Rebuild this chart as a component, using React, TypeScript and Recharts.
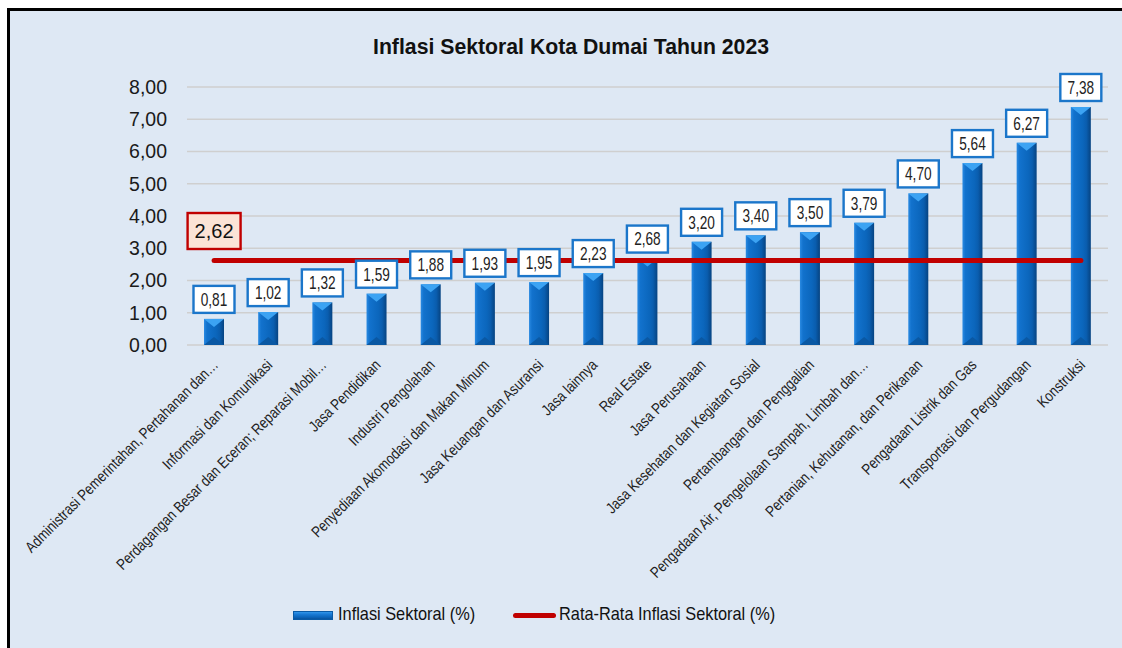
import React from 'react';
import {
  ComposedChart,
  Bar,
  Line,
  XAxis,
  YAxis,
  CartesianGrid,
  LabelList,
  Legend,
} from 'recharts';

const chartTitle = 'Inflasi Sektoral Kota Dumai Tahun 2023';

const categories = [
  'Administrasi Pemerintahan, Pertahanan dan…',
  'Informasi dan Komunikasi',
  'Perdagangan Besar dan Eceran; Reparasi Mobil…',
  'Jasa Pendidikan',
  'Industri Pengolahan',
  'Penyediaan Akomodasi dan Makan Minum',
  'Jasa Keuangan dan Asuransi',
  'Jasa lainnya',
  'Real Estate',
  'Jasa Perusahaan',
  'Jasa Kesehatan dan Kegiatan Sosial',
  'Pertambangan dan Penggalian',
  'Pengadaan Air, Pengelolaan Sampah, Limbah dan…',
  'Pertanian, Kehutanan, dan Perikanan',
  'Pengadaan Listrik dan Gas',
  'Transportasi dan Pergudangan',
  'Konstruksi',
];

const inflationValues = [
  0.81, 1.02, 1.32, 1.59, 1.88, 1.93, 1.95, 2.23, 2.68, 3.2, 3.4, 3.5, 3.79, 4.7, 5.64, 6.27, 7.38,
];

const averageInflation = 2.62;

const yTicks = [0, 1, 2, 3, 4, 5, 6, 7, 8];

const seriesNames = ['Inflasi Sektoral (%)', 'Rata-Rata Inflasi Sektoral (%)'];

const data = categories.map((name, i) => ({
  name,
  value: inflationValues[i],
  avg: averageInflation,
}));

const REG = "'Liberation Sans', Arial, sans-serif";

const fmt = (v: number) => Number(v).toFixed(2).replace('.', ',');

const CHART_W = 1115;
const CHART_H = 640;

const BevelBar = (props: any) => {
  const { x, y, width: w, height: h } = props;
  if (!h || h <= 0) return null;
  const d = Math.min(8, h / 2);
  return (
    <g>
      <rect x={x} y={y} width={w} height={h} fill="url(#barBody)" />
      <polygon points={`${x},${y} ${x + w},${y} ${x + w / 2},${y + d}`} fill="#3CA3F3" />
      <polygon
        points={`${x},${y + h} ${x + w},${y + h} ${x + w / 2},${y + h - d}`}
        fill="#0A58A3"
      />
    </g>
  );
};

const BarValueLabel = (props: any) => {
  const { x, y, width, value } = props;
  const cx = x + width / 2;
  const bw = 41;
  const bh = 27;
  const top = y - 6 - bh;
  return (
    <g>
      <rect x={cx - bw / 2} y={top} width={bw} height={bh} fill="#ffffff" stroke="#1B76CA" strokeWidth={2.4} />
      <g transform={`translate(${cx} ${top + bh / 2}) scale(0.78 1)`}>
        <text x={0} y={0} dy="0.36em" textAnchor="middle" fontSize={17.5} fontFamily={REG} fill="#222">
          {fmt(value)}
        </text>
      </g>
    </g>
  );
};

const AvgLabel = (props: any) => {
  const { x, y, value, index } = props;
  if (index !== 0) return null;
  const bw = 53;
  const bh = 36;
  const cy = y - 29.5;
  return (
    <g>
      <rect x={x - bw / 2} y={cy - bh / 2} width={bw} height={bh} fill="#FBE3D6" stroke="#C00000" strokeWidth={2.4} />
      <text x={x} y={cy} dy="0.36em" textAnchor="middle" fontSize={20} fontFamily={REG} fill="#111">
        {fmt(value)}
      </text>
    </g>
  );
};

const CategoryTick = (props: any) => {
  const { x, y, payload } = props;
  const bx = x + 5;
  const by = y + 21;
  return (
    <g transform={`translate(${bx} ${by}) rotate(-45) scale(0.83 1)`}>
      <text x={0} y={0} textAnchor="end" fontSize={15.5} fontFamily={REG} fill="#222">
        {payload.value}
      </text>
    </g>
  );
};

const legendText: React.CSSProperties = {
  position: 'absolute',
  top: 9,
  lineHeight: '22px',
  whiteSpace: 'nowrap',
  display: 'inline-block',
  transform: 'scaleX(0.86)',
  transformOrigin: 'left center',
};

const LegendContent = () => (
  <div style={{ position: 'relative', width: CHART_W, height: 40, fontFamily: REG, fontSize: 19, color: '#111' }}>
    <div
      style={{
        position: 'absolute',
        left: 283,
        top: 17,
        width: 40,
        height: 9,
        background: 'linear-gradient(to bottom, #3CA3F3 0%, #1A7BD6 35%, #0B63B8 70%, #07498C 100%)',
        boxShadow: 'inset 0 0 0 1px #0A5AA6',
      }}
    />
    <span style={{ ...legendText, left: 328 }}>{seriesNames[0]}</span>
    <div
      style={{
        position: 'absolute',
        left: 503,
        top: 19,
        width: 43,
        height: 5,
        borderRadius: 3,
        background: '#C00000',
      }}
    />
    <span style={{ ...legendText, left: 549 }}>{seriesNames[1]}</span>
  </div>
);

export default function App() {
  return (
    <div
      style={{
        position: 'absolute',
        left: 7,
        top: 8,
        width: 1112,
        height: 637,
        borderTop: '3px solid #000',
        borderLeft: '3px solid #000',
        background: '#DEE8F4',
        overflow: 'hidden',
      }}
    >
      <style>{'html,body{overflow:hidden}'}</style>
      <svg
        width={CHART_W}
        height={60}
        style={{ position: 'absolute', left: 0, top: 0, pointerEvents: 'none' }}
      >
        <text
          x={561}
          y={42.5}
          textAnchor="middle"
          fontSize={22}
          fontWeight="bold"
          fontFamily={REG}
          fill="#111"
          textLength={396}
          lengthAdjust="spacingAndGlyphs"
        >
          {chartTitle}
        </text>
      </svg>
      <ComposedChart
        width={CHART_W}
        height={CHART_H}
        data={data}
        margin={{ top: 76, right: 17, left: 97, bottom: 17 }}
      >
        <defs>
          <linearGradient id="barBody" x1="0" y1="0" x2="1" y2="0">
            <stop offset="0%" stopColor="#2A8AE2" />
            <stop offset="15%" stopColor="#1272CD" />
            <stop offset="60%" stopColor="#0B66BC" />
            <stop offset="78%" stopColor="#0A5DAE" />
            <stop offset="100%" stopColor="#064381" />
          </linearGradient>
        </defs>
        <CartesianGrid vertical={false} stroke="#CFCFCF" strokeWidth={1.6} />
        <XAxis
          dataKey="name"
          interval={0}
          tick={<CategoryTick />}
          tickLine={false}
          axisLine={false}
          tickSize={0}
          tickMargin={0}
          height={249}
        />
        <YAxis
          domain={[0, 8]}
          ticks={yTicks}
          tickFormatter={fmt}
          tickLine={false}
          axisLine={false}
          tickSize={0}
          tickMargin={20}
          width={80}
          tick={{ fontSize: 19.5, fontFamily: REG, fill: '#1a1a1a' }}
        />
        <Bar dataKey="value" name={seriesNames[0]} barSize={20} shape={<BevelBar />} isAnimationActive={false}>
          <LabelList dataKey="value" content={<BarValueLabel />} />
        </Bar>
        <Line
          dataKey="avg"
          name={seriesNames[1]}
          stroke="#C00000"
          strokeWidth={5}
          strokeLinecap="round"
          dot={false}
          activeDot={false}
          type="linear"
          isAnimationActive={false}
        >
          <LabelList dataKey="avg" content={<AvgLabel />} />
        </Line>
        <Legend
          verticalAlign="bottom"
          content={<LegendContent />}
          wrapperStyle={{ left: 0, width: CHART_W }}
        />
      </ComposedChart>
    </div>
  );
}
